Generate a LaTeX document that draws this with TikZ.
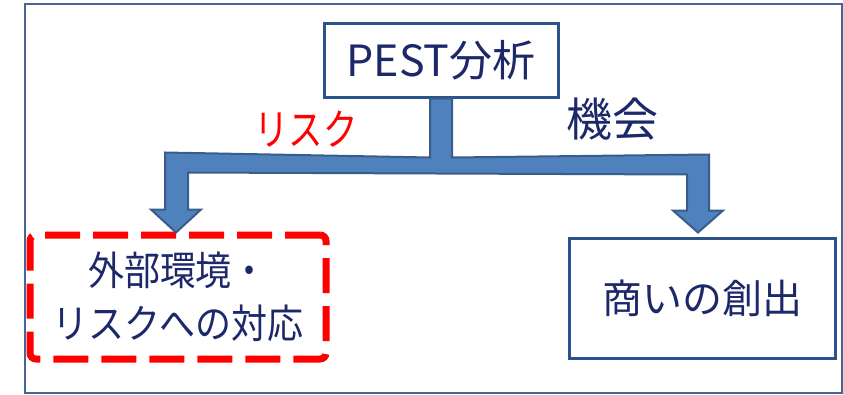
\documentclass[tikz,border=0pt]{standalone}
\usepackage{fontspec}
\newfontfamily\jp{Noto Sans CJK JP}
\newfontfamily\jpnarrow{Noto Sans CJK JP}[FakeStretch=0.9]
\newfontfamily\jpcond{Noto Sans CJK JP}[FakeStretch=0.8]
\usetikzlibrary{calc}
\definecolor{navytext}{RGB}{28,40,105}
\definecolor{boxline}{RGB}{44,82,138}
\definecolor{frameline}{RGB}{72,102,148}
\definecolor{arrowfill}{RGB}{79,129,189}
\definecolor{arrowline}{RGB}{56,93,138}
\definecolor{riskred}{RGB}{255,0,0}
\tikzset{
  boxnode/.style={draw=boxline, line width=3pt, fill=white, inner sep=0pt, text=navytext},
  fatarrow/.style={fill=arrowfill, draw=arrowline, line width=2pt, line join=miter},
}
\begin{document}
\begin{tikzpicture}[x=1pt,y=-1pt]
\useasboundingbox (0,0) rectangle (843,394);
\draw[frameline, line width=2pt] (25,4) rectangle (842,393);
\node[boxnode, minimum width=234pt, minimum height=74pt,
      font=\jp\fontsize{43}{46}\selectfont] (pest) at (441,60) {PEST分析};
\node[boxnode, minimum width=266pt, minimum height=120pt,
      font=\jp\fontsize{40}{44}\selectfont] (opp) at (702,298) {商いの創出};
\node[draw=riskred, line width=7pt, dash pattern=on 35pt off 13pt, rounded corners=6pt,
      minimum width=296pt, minimum height=124pt, inner sep=0pt, text=navytext, align=center,
      font=\jpnarrow\fontsize{40}{53}\selectfont] (risk) at (178,297) {外部環境・\\リスクへの対応};
\coordinate (T) at (pest.south);
\coordinate (L) at (risk.north);
\coordinate (R) at (opp.north);
\draw[fatarrow]
  ($(T)+(-11,0)$) -- ($(T)+(-11,59)$) -- ($(L)+(-13,-79)$)
  -- ($(L)+(-13,-22)$) -- ($(L)+(-27,-22)$) -- ($(L)+(-2,1)$)
  -- ($(L)+(23,-22)$) -- ($(L)+(10,-22)$) -- ($(L)+(10,-59)$)
  -- ($(R)+(-15,-62)$) -- ($(R)+(-15,-26)$) -- ($(R)+(-29,-26)$)
  -- ($(R)+(-4,-4)$) -- ($(R)+(21,-26)$) -- ($(R)+(7,-26)$)
  -- ($(R)+(7,-82)$) -- ($(T)+(11,59)$) -- ($(T)+(11,0)$) -- cycle;
\node[text=riskred, font=\jpcond\fontsize{43}{46}\selectfont] (risklabel) at (306,129) {リスク};
\node[text=navytext, font=\jp\fontsize{46}{50}\selectfont] (opplabel) at (612,119) {機会};
\end{tikzpicture}
\end{document}
